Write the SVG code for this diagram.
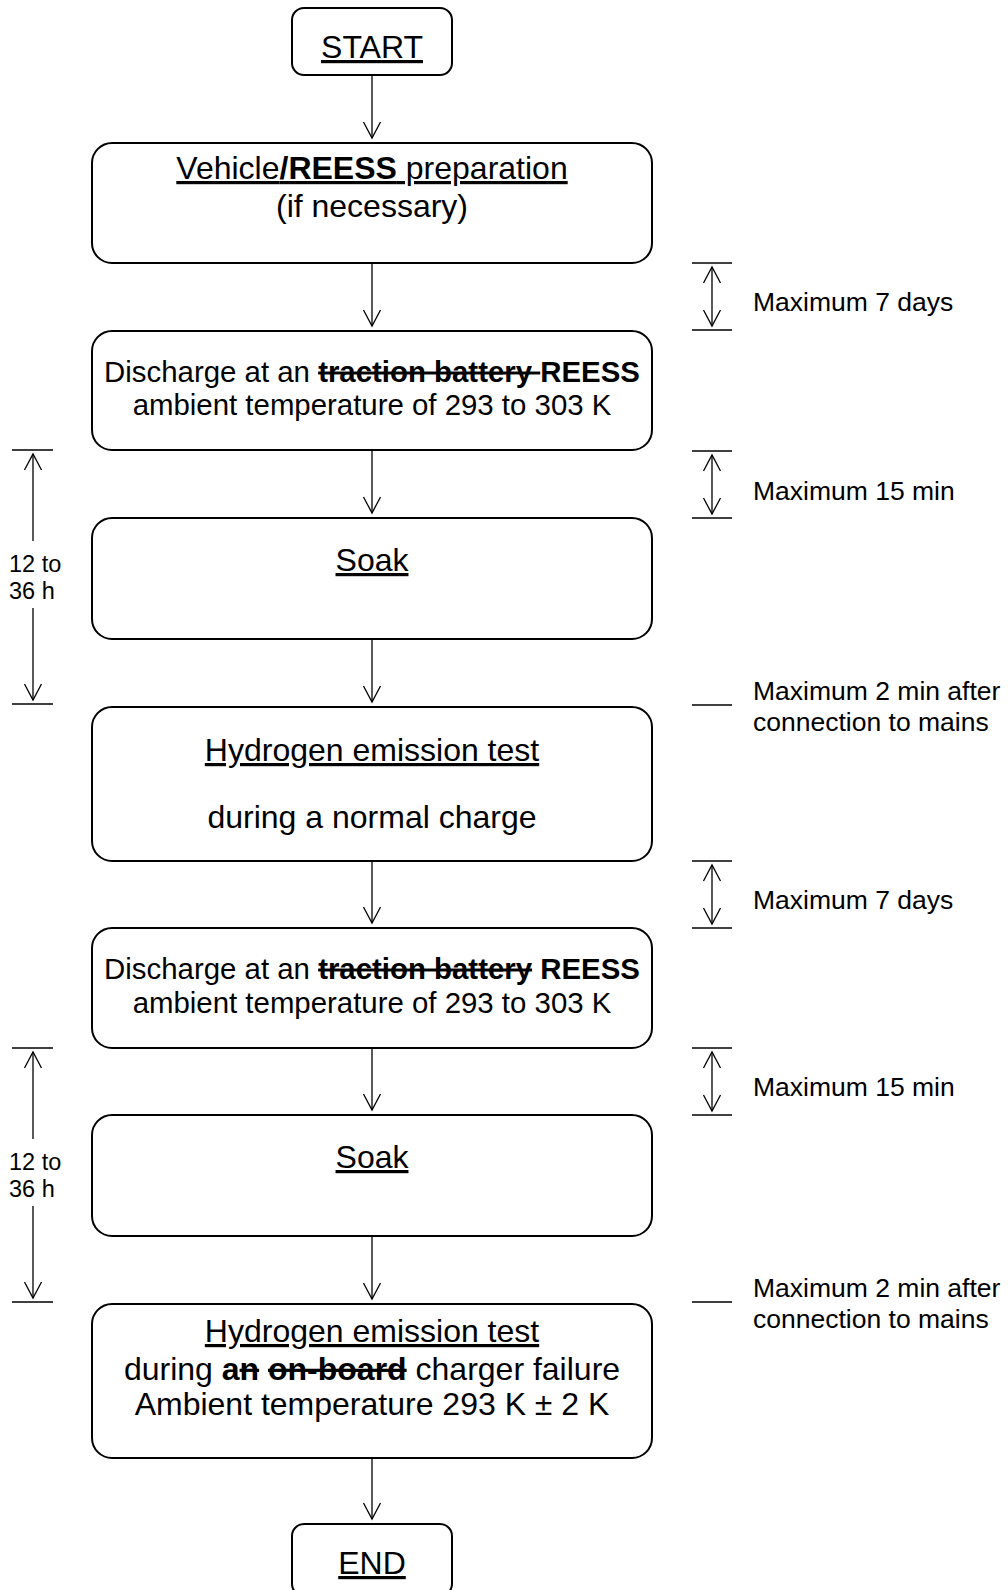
<svg xmlns="http://www.w3.org/2000/svg" width="1008" height="1590" viewBox="0 0 1008 1590">
<style>
.box{fill:#fff;stroke:#000;stroke-width:2}
.c{stroke:#000;stroke-width:1.3;fill:none}
.t{font-family:"Liberation Sans",Arial,sans-serif;fill:#000}
.m{font-size:32px;text-anchor:middle}
.d{font-size:29.4px;text-anchor:middle}
.s{font-size:26.5px}
.l{font-size:23.5px}
.b{font-weight:bold}
.u{text-decoration:underline}
.x{text-decoration:line-through}
</style>
<defs>
<marker id="ah" viewBox="-1 -10 19 20" refX="16" refY="0" markerWidth="19" markerHeight="20" markerUnits="userSpaceOnUse" orient="auto-start-reverse">
<path d="M0,-8.5 L16,0 L0,8.5" fill="none" stroke="#000" stroke-width="1.3"/>
</marker>
</defs>
<rect width="1008" height="1590" fill="#fff"/>
<g id="connectors">
<line class="c" x1="372" y1="75" x2="372" y2="138" marker-end="url(#ah)"/>
<line class="c" x1="372" y1="263" x2="372" y2="326" marker-end="url(#ah)"/>
<line class="c" x1="372" y1="450" x2="372" y2="513" marker-end="url(#ah)"/>
<line class="c" x1="372" y1="639" x2="372" y2="702" marker-end="url(#ah)"/>
<line class="c" x1="372" y1="861" x2="372" y2="923" marker-end="url(#ah)"/>
<line class="c" x1="372" y1="1048" x2="372" y2="1110" marker-end="url(#ah)"/>
<line class="c" x1="372" y1="1236" x2="372" y2="1299" marker-end="url(#ah)"/>
<line class="c" x1="372" y1="1458" x2="372" y2="1519" marker-end="url(#ah)"/>
</g>
<g id="right-brackets">
<g id="rb1"><line class="c" x1="692" y1="263" x2="732" y2="263"/><line class="c" x1="692" y1="330" x2="732" y2="330"/><line class="c" x1="712" y1="267" x2="712" y2="326" marker-start="url(#ah)" marker-end="url(#ah)"/><text class="t s" x="753" y="311">Maximum 7 days</text></g>
<g id="rb2"><line class="c" x1="692" y1="451" x2="732" y2="451"/><line class="c" x1="692" y1="518" x2="732" y2="518"/><line class="c" x1="712" y1="455" x2="712" y2="514" marker-start="url(#ah)" marker-end="url(#ah)"/><text class="t s" x="753" y="500">Maximum 15 min</text></g>
<g id="rb3"><line class="c" x1="692" y1="705" x2="732" y2="705"/><text class="t s" x="753" y="700">Maximum 2 min after</text><text class="t s" x="753" y="731">connection to mains</text></g>
<g id="rb4"><line class="c" x1="692" y1="861" x2="732" y2="861"/><line class="c" x1="692" y1="928" x2="732" y2="928"/><line class="c" x1="712" y1="865" x2="712" y2="924" marker-start="url(#ah)" marker-end="url(#ah)"/><text class="t s" x="753" y="909">Maximum 7 days</text></g>
<g id="rb5"><line class="c" x1="692" y1="1048" x2="732" y2="1048"/><line class="c" x1="692" y1="1115" x2="732" y2="1115"/><line class="c" x1="712" y1="1052" x2="712" y2="1111" marker-start="url(#ah)" marker-end="url(#ah)"/><text class="t s" x="753" y="1096">Maximum 15 min</text></g>
<g id="rb6"><line class="c" x1="692" y1="1302" x2="732" y2="1302"/><text class="t s" x="753" y="1297">Maximum 2 min after</text><text class="t s" x="753" y="1328">connection to mains</text></g>
</g>
<g id="left-brackets">
<g id="lb1"><line class="c" x1="12" y1="450" x2="53" y2="450"/><line class="c" x1="12" y1="704" x2="53" y2="704"/><line class="c" x1="33" y1="541" x2="33" y2="454" marker-end="url(#ah)"/><line class="c" x1="33" y1="608" x2="33" y2="700" marker-end="url(#ah)"/><text class="t l" x="9" y="572">12 to</text><text class="t l" x="9" y="599">36 h</text></g>
<g id="lb2"><line class="c" x1="12" y1="1048" x2="53" y2="1048"/><line class="c" x1="12" y1="1302" x2="53" y2="1302"/><line class="c" x1="33" y1="1139" x2="33" y2="1052" marker-end="url(#ah)"/><line class="c" x1="33" y1="1206" x2="33" y2="1298" marker-end="url(#ah)"/><text class="t l" x="9" y="1170">12 to</text><text class="t l" x="9" y="1197">36 h</text></g>
</g>
<g id="start"><rect class="box" x="292" y="8" width="160" height="67" rx="12"/><text class="t m u" x="372" y="58">START</text></g>
<g id="prep"><rect class="box" x="92" y="143" width="560" height="120" rx="20"/><text class="t m u" x="372" y="179">Vehicle<tspan class="b">/REESS</tspan> preparation</text><text class="t m" x="372" y="217">(if necessary)</text></g>
<g id="discharge1"><rect class="box" x="92" y="331" width="560" height="119" rx="20"/><text class="t d" x="372" y="382">Discharge at an <tspan class="b x">traction battery </tspan><tspan class="b">REESS</tspan></text><text class="t d" x="372" y="415">ambient temperature of 293 to 303 K</text></g>
<g id="soak1"><rect class="box" x="92" y="518" width="560" height="121" rx="20"/><text class="t m u" x="372" y="571">Soak</text></g>
<g id="h2test1"><rect class="box" x="92" y="707" width="560" height="154" rx="20"/><text class="t m u" x="372" y="761">Hydrogen emission test</text><text class="t m" x="372" y="828">during a normal charge</text></g>
<g id="discharge2"><rect class="box" x="92" y="928" width="560" height="120" rx="20"/><text class="t d" x="372" y="979">Discharge at an <tspan class="b x">traction battery</tspan> <tspan class="b">REESS</tspan></text><text class="t d" x="372" y="1013">ambient temperature of 293 to 303 K</text></g>
<g id="soak2"><rect class="box" x="92" y="1115" width="560" height="121" rx="20"/><text class="t m u" x="372" y="1168">Soak</text></g>
<g id="h2test2"><rect class="box" x="92" y="1304" width="560" height="154" rx="20"/><text class="t m u" x="372" y="1342">Hydrogen emission test</text><text class="t m" x="372" y="1380">during <tspan class="b">a</tspan><tspan class="b x">n</tspan> <tspan class="b x">on-board</tspan> charger failure</text><text class="t m" x="372" y="1415">Ambient temperature 293 K ± 2 K</text></g>
<g id="end"><rect class="box" x="292" y="1524" width="160" height="72" rx="12"/><text class="t m u" x="372" y="1574">END</text></g>
</svg>
